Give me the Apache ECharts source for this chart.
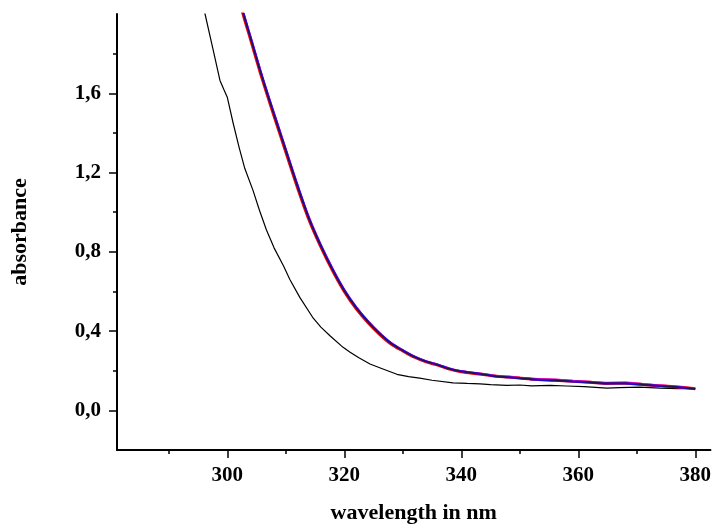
<!DOCTYPE html>
<html>
<head>
<meta charset="utf-8">
<script src="https://cdn.jsdelivr.net/npm/echarts@6/dist/echarts.min.js"></script>
<style>
html,body{margin:0;padding:0;background:#fff;}
#chart{width:714px;height:529px;}
</style>
</head>
<body>
<div id="chart"></div>
<script>
// ---- data ----
const xMajorTicks = [300, 320, 340, 360, 380];
const xMinorTicks = [290, 310, 330, 350, 370];
const yMajorTicks = [0.0, 0.4, 0.8, 1.2, 1.6];
const yMinorTicks = [0.2, 0.6, 1.0, 1.4, 1.8];

// bundle of overlapping sample spectra
const wlBundle = [302.2, 302.7, 304, 306, 308, 310, 312, 314, 316, 318, 320, 322, 324, 326, 328, 330, 332, 334, 336, 338, 340, 343, 346, 348, 350, 353, 356, 359, 362, 365, 368, 371, 373, 376, 378, 380];
const absRed = [2.06, 2.00, 1.87, 1.67, 1.485, 1.305, 1.125, 0.96, 0.825, 0.705, 0.600, 0.515, 0.445, 0.385, 0.335, 0.300, 0.268, 0.245, 0.228, 0.208, 0.195, 0.184, 0.172, 0.168, 0.163, 0.156, 0.152, 0.147, 0.142, 0.136, 0.137, 0.130, 0.126, 0.120, 0.115, 0.109];
const absBlue = [2.07, 2.01, 1.88, 1.68, 1.495, 1.315, 1.135, 0.968, 0.832, 0.712, 0.607, 0.521, 0.451, 0.390, 0.339, 0.303, 0.271, 0.247, 0.230, 0.210, 0.197, 0.185, 0.171, 0.167, 0.162, 0.155, 0.151, 0.146, 0.141, 0.135, 0.136, 0.129, 0.125, 0.119, 0.114, 0.108];
const absMagenta = [2.075, 2.015, 1.885, 1.685, 1.50, 1.32, 1.14, 0.972, 0.836, 0.716, 0.610, 0.524, 0.453, 0.392, 0.341, 0.304, 0.272, 0.248, 0.231, 0.212, 0.198, 0.187, 0.174, 0.170, 0.165, 0.158, 0.156, 0.149, 0.144, 0.139, 0.140, 0.133, 0.128, 0.122, 0.116, 0.110];
const absNavy = [2.065, 2.005, 1.875, 1.675, 1.49, 1.31, 1.13, 0.964, 0.828, 0.708, 0.603, 0.518, 0.448, 0.387, 0.337, 0.301, 0.269, 0.246, 0.229, 0.209, 0.196, 0.185, 0.172, 0.168, 0.163, 0.156, 0.153, 0.147, 0.142, 0.137, 0.138, 0.131, 0.126, 0.120, 0.115, 0.109];

// reference spectrum (thin black)
const wlRef = [295.5, 296.2, 297.5, 298.75, 299.4, 300, 301, 302, 303, 304.4, 305.5, 306.7, 308, 309.6, 310.7, 312.4, 314.7, 316, 317.6, 319.8, 321, 322.5, 324.4, 326.5, 329, 331, 332.9, 335, 338.6, 341, 343.2, 345, 347.8, 350, 352, 355.2, 358, 361, 364.9, 367, 370.5, 374, 377, 380];
const absRef = [2.10, 2.00, 1.83, 1.665, 1.62, 1.58, 1.45, 1.33, 1.22, 1.11, 1.01, 0.91, 0.82, 0.73, 0.66, 0.57, 0.465, 0.42, 0.375, 0.318, 0.293, 0.265, 0.234, 0.21, 0.182, 0.17, 0.163, 0.152, 0.139, 0.136, 0.134, 0.13, 0.126, 0.128, 0.124, 0.126, 0.123, 0.12, 0.112, 0.115, 0.117, 0.112, 0.11, 0.109];

const xAxisTitle = 'wavelength in nm';
const yAxisTitle = 'absorbance';

// ---- chart ----
const zip = (xs, ys) => xs.map((x, i) => [x, ys[i]]);
const FONT = 'Liberation Serif';
const X_MIN = 281.15, X_MAX = 382.6, Y_MIN = -0.2, Y_MAX = 2.0;

const baseX = {type: 'value', min: X_MIN, max: X_MAX, splitLine: {show: false}};
const baseY = {type: 'value', min: Y_MIN, max: Y_MAX, splitLine: {show: false}};

const chart = echarts.init(document.getElementById('chart'), null, {renderer: 'canvas'});
const lineSeries = (data, color, width, z, smooth) => ({
  type: 'line', data: data, showSymbol: false, symbol: 'none', smooth: smooth,
  lineStyle: {color: color, width: width}, z: z, animation: false, silent: true
});

chart.setOption({
  animation: false,
  backgroundColor: '#ffffff',
  grid: {left: 117, top: 14, width: 594, height: 438, containLabel: false},
  xAxis: [
    Object.assign({}, baseX, {
      position: 'bottom',
      name: xAxisTitle, nameLocation: 'middle', nameGap: 52,
      nameTextStyle: {fontFamily: FONT, fontWeight: 'bold', fontSize: 22, color: '#000'},
      axisLine: {show: true, onZero: false, lineStyle: {color: '#000', width: 2}},
      axisTick: {show: true, length: 8, lineStyle: {color: '#000', width: 1.5}, customValues: xMajorTicks},
      axisLabel: {show: true, margin: 15, customValues: xMajorTicks,
        fontFamily: FONT, fontWeight: 'bold', fontSize: 21, color: '#000',
        formatter: v => String(Math.round(v))}
    }),
    Object.assign({}, baseX, {
      position: 'bottom',
      axisLine: {show: false, onZero: false},
      axisTick: {show: true, length: 4, lineStyle: {color: '#000', width: 1.5}, customValues: xMinorTicks},
      axisLabel: {show: false}
    })
  ],
  yAxis: [
    Object.assign({}, baseY, {
      position: 'left',
      name: yAxisTitle, nameLocation: 'middle', nameGap: 86, nameRotate: 90,
      nameTextStyle: {fontFamily: FONT, fontWeight: 'bold', fontSize: 22, color: '#000'},
      axisLine: {show: true, onZero: false, lineStyle: {color: '#000', width: 2}},
      axisTick: {show: true, length: 8, lineStyle: {color: '#000', width: 1.5}, customValues: yMajorTicks},
      axisLabel: {show: true, margin: 16, customValues: yMajorTicks,
        fontFamily: FONT, fontWeight: 'bold', fontSize: 21, color: '#000',
        formatter: v => v.toFixed(1).replace('.', ',')}
    }),
    Object.assign({}, baseY, {
      position: 'left',
      axisLine: {show: false, onZero: false},
      axisTick: {show: true, length: 4, lineStyle: {color: '#000', width: 1.5}, customValues: yMinorTicks},
      axisLabel: {show: false}
    })
  ],
  series: [
    lineSeries(zip(wlRef, absRef), '#000000', 1.2, 2, false),
    lineSeries(zip(wlBundle, absRed), '#ee0000', 3, 3, 0.3),
    lineSeries(zip(wlBundle, absMagenta), '#dd00dd', 2, 4, 0.3),
    lineSeries(zip(wlBundle, absBlue), '#1010ee', 2, 5, 0.3),
    lineSeries(zip(wlBundle, absNavy), '#2a1040', 1.2, 6, 0.3)
  ]
});
</script>
</body>
</html>
